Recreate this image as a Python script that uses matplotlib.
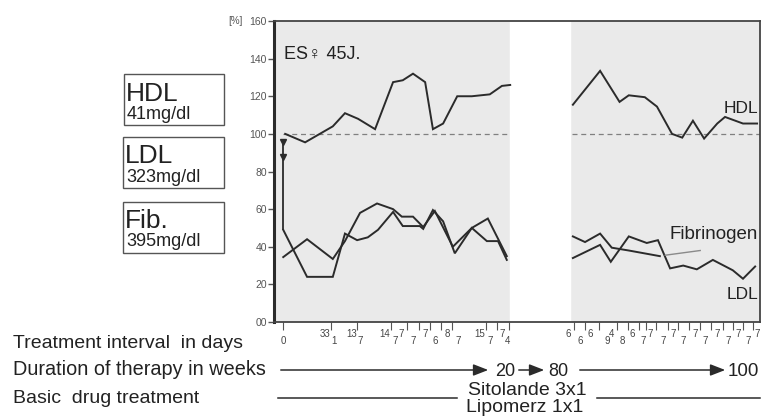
import numpy as np
import matplotlib
matplotlib.use('Agg')
import matplotlib.pyplot as plt
from matplotlib.patches import Rectangle

# Font
plt.rcParams['font.family'] = ['Liberation Sans', 'DejaVu Sans']

# ---------------------------------------------------------------------------
# Data (x in relative time units 0-100, y in % of baseline)
hdl_x1 = [2.3, 6.4, 12.1, 14.6, 17.3, 20.8, 24.5, 26.5, 28.6, 31.1, 32.7, 34.8, 37.7, 40.7, 44.4, 46.9, 48.6]
hdl_y1 = [100, 95.5, 104, 111, 108, 102.5, 127.5, 128.5, 132, 127.5, 102.5, 105.5, 120, 120, 121, 125.5, 126]
hdl_x2 = [61.5, 67.1, 71.1, 73.0, 76.3, 78.8, 81.9, 84.0, 86.2, 88.5, 91.2, 92.8, 96.5, 99.4]
hdl_y2 = [115.5, 133.5, 117, 120.5, 119.5, 114.5, 100, 98, 107, 97.5, 105.5, 109, 105.5, 105.5]

fib_x1 = [1.9, 6.8, 12.1, 14.6, 17.1, 19.3, 21.4, 24.5, 26.5, 30.0, 30.7, 32.7, 34.8, 37.2, 40.7, 43.8, 46.1, 47.9]
fib_y1 = [49, 24, 24, 47, 43.5, 45, 49, 58.5, 51, 51, 49.5, 59.5, 53.5, 36.5, 50, 43, 43, 33]
fib_x2 = [61.5, 64.0, 67.1, 69.5, 73.0, 79.4]
fib_y2 = [45.5, 42.5, 47, 39.5, 38, 35]
fib_ext_x = [80.5, 87.7]
fib_ext_y = [35.5, 38]

ldl_x1 = [1.9, 6.8, 12.1, 14.6, 17.7, 21.2, 24.5, 26.3, 28.6, 30.7, 33.1, 36.8, 40.7, 44.0, 47.9]
ldl_y1 = [34.5, 44, 33.5, 43, 58, 63, 60, 56, 56, 50.5, 59, 40, 50, 55, 35]
ldl_x2 = [61.5, 67.1, 69.3, 73.0, 76.7, 79.0, 81.5, 84.2, 87.0, 90.3, 94.4, 96.5, 99.0]
ldl_y2 = [34, 41, 32, 45.5, 42, 43.5, 28.5, 30, 28, 33, 27.5, 23, 29.5]

gap = (48.6, 60.9)

yticks = [0, 20, 40, 60, 80, 100, 120, 140, 160]
ytick_labels = ['00', '20', '40', '60', '80', '100', '120', '140', '160']

xticks = [1.9, 11.7, 17.0, 24.0, 27.3, 29.8, 32.2, 34.4, 36.7, 43.6, 45.9, 48.3,
          61.7, 64.0, 66.8, 70.6, 72.8, 75.0, 76.6, 78.7, 81.0, 83.2, 85.4, 87.6,
          89.9, 92.3, 94.4, 96.5, 98.5]
# treatment interval labels: level 0 = upper, 1 = lower
interval_x = [1.9, 10.5, 12.3, 16.0, 17.7, 22.8, 24.9, 26.2, 28.6, 31.1, 33.1, 35.6, 37.9,
              42.4, 44.4, 46.9, 48.1,
              60.5, 63.0, 65.0, 68.5, 69.5, 71.6, 73.7, 75.9, 77.4, 80.0, 82.1, 84.2,
              86.6, 88.7, 91.2, 93.4, 95.5, 97.5, 99.4]
interval_txt = ['0', '33', '1', '13', '7', '14', '7', '7', '7', '7', '6', '8', '7',
                '15', '7', '7', '4',
                '6', '6', '6', '9', '4', '8', '6', '7', '7', '7', '7', '7',
                '7', '7', '7', '7', '7', '7', '7']
interval_lvl = [1, 0, 1, 0, 1, 0, 1, 0, 1, 0, 1, 0, 1,
                0, 1, 0, 1,
                0, 1, 0, 1, 0, 1, 0, 1, 0, 1, 0, 1,
                0, 1, 0, 1, 0, 1, 0]

# ---------------------------------------------------------------------------
W, H = 765, 418
fig = plt.figure(figsize=(W / 100, H / 100), dpi=100)
fig.patch.set_facecolor('white')

ax = fig.add_axes([274 / W, 1 - 322 / H, 486 / W, 301 / H])
ax.set_xlim(0, 100)
ax.set_ylim(0, 160)
ax.set_facecolor('#eaeaea')
ax.axvspan(gap[0], gap[1], color='white', zorder=0)

dark = '#2b2b2b'
ax.hlines(100, 1.9, gap[0], colors='#808080', linestyles=(0, (4, 3)), lw=0.9)
ax.hlines(100, gap[1] + 0.5, 100, colors='#808080', linestyles=(0, (4, 3)), lw=0.9)

for x, y in [(hdl_x1, hdl_y1), (hdl_x2, hdl_y2), (fib_x1, fib_y1), (fib_x2, fib_y2),
             (ldl_x1, ldl_y1), (ldl_x2, ldl_y2)]:
    ax.plot(x, y, color=dark, lw=1.4, solid_joinstyle='miter')
ax.plot(fib_ext_x, fib_ext_y, color='#8a8a8a', lw=1.0)

# starting arrow
ax.vlines(1.9, 49, 97, color=dark, lw=1.3)
ax.plot([1.9, 1.9], [95.5, 87.5], 'v', color=dark, ms=5)

# axes frame
for side in ['top', 'right', 'bottom']:
    ax.spines[side].set_linewidth(1.3)
    ax.spines[side].set_color('#444444')
ax.spines['left'].set_linewidth(2.2)
ax.spines['left'].set_color(dark)

ax.set_yticks(yticks)
ax.set_yticklabels(ytick_labels)
ax.tick_params(axis='y', direction='out', length=4, width=1, labelsize=7.5,
               colors='#555555', pad=1)
ax.set_xticks(xticks)
ax.set_xticklabels([])
ax.tick_params(axis='x', direction='out', length=6, width=0.8, colors='#555555')

for x, t, lv in zip(interval_x, interval_txt, interval_lvl):
    ax.text(x, -0.040 if lv == 0 else -0.063, t, transform=ax.get_xaxis_transform(),
            ha='center', va='center', fontsize=7, color='#444444')

ax.text(2.0, 140, 'ES\u2640 45J.', fontsize=13, color='#222222', va='baseline',
        ha='left')
ax.text(99.6, 111, 'HDL', fontsize=12.5, ha='right', va='baseline', color='#222222')
ax.text(99.6, 44, 'Fibrinogen', fontsize=13.5, ha='right', va='baseline', color='#222222')
ax.text(99.6, 12, 'LDL', fontsize=12.5, ha='right', va='baseline', color='#222222')

# ---------------------------------------------------------------------------
# annotation layer in pixel coordinates
ov = fig.add_axes([0, 0, 1, 1], facecolor='none')
ov.set_xlim(0, W)
ov.set_ylim(H, 0)
ov.axis('off')

ov.text(243, 21, '[%]', fontsize=7, ha='right', va='center', color='#555555')

boxes = [(124, 74, 100, 51, 'HDL', '41mg/dl', 101, 119),
         (123, 137, 101, 51, 'LDL', '323mg/dl', 163, 182),
         (123, 202, 101, 51, 'Fib.', '395mg/dl', 228, 246)]
for bx, by, bw, bh, big, small, yb, ys in boxes:
    ov.add_patch(Rectangle((bx, by), bw, bh, fill=False, ec='#555555', lw=1))
    ov.text(bx + 2, yb, big, fontsize=19, va='baseline', ha='left', color='#222222')
    ov.text(bx + 3, ys, small, fontsize=13, va='baseline', ha='left', color='#222222')

ov.text(13, 348, 'Treatment interval  in days', fontsize=14, va='baseline', color='#222222')
ov.text(13, 375, 'Duration of therapy in weeks', fontsize=14.3, va='baseline', color='#222222')
ov.text(13, 403, 'Basic  drug treatment', fontsize=14, va='baseline', color='#222222')

# therapy duration arrows
arrow_kw = dict(arrowstyle='-|>,head_length=0.9,head_width=0.35', color=dark, lw=1.1)
ov.annotate('', xy=(491, 370), xytext=(278, 370), arrowprops=arrow_kw)
ov.text(495, 376, '20', fontsize=13, va='baseline', color='#222222')
ov.annotate('', xy=(547, 370), xytext=(516, 370), arrowprops=arrow_kw)
ov.text(548, 376, '80', fontsize=13, va='baseline', color='#222222')
ov.annotate('', xy=(728, 370), xytext=(577, 370), arrowprops=arrow_kw)
ov.text(728, 376, '100', fontsize=13.5, va='baseline', color='#222222')

# basic drug treatment line
ov.plot([278, 457], [398, 398], color=dark, lw=1.1)
ov.plot([597, 760], [398, 398], color=dark, lw=1.1)
ov.text(527, 395, 'Sitolande 3x1', fontsize=14, ha='center', va='baseline', color='#222222')
ov.text(525, 412, 'Lipomerz 1x1', fontsize=14, ha='center', va='baseline', color='#222222')

plt.savefig('out.png', dpi=100)
